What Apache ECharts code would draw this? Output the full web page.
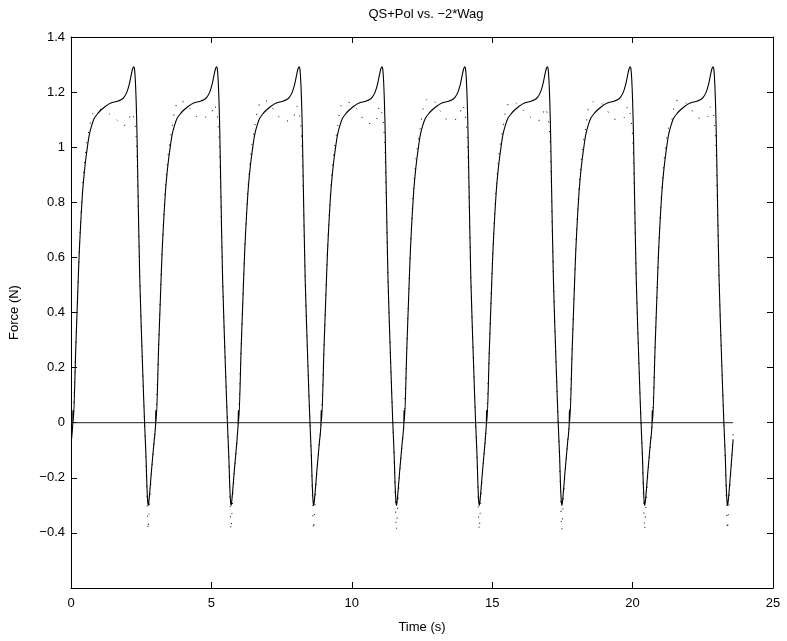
<!DOCTYPE html>
<html>
<head>
<meta charset="utf-8">
<script src="https://cdn.jsdelivr.net/npm/echarts@6/dist/echarts.min.js"></script>
<style>
html,body{margin:0;padding:0;background:#fff;}
#chart{width:787px;height:641px;}
</style>
</head>
<body>
<div id="chart"></div>
<script>
// ---- data ----
const chartTitle = 'QS+Pol vs. \u22122*Wag';
const xTicks = [0, 5, 10, 15, 20, 25];
const yTicks = [-0.6, -0.4, -0.2, 0, 0.2, 0.4, 0.6, 0.8, 1, 1.2, 1.4];

// start time (s) of each stroke cycle (rising zero crossing)
const cycleStarts = [0.07, 3.02, 5.96, 8.91, 11.86, 14.80, 17.75, 20.70];
// last sample time and final values
const endTime = 23.58;
const qsEndValue = -0.06;
const wagEndValue = -0.04;

// QS+Pol (solid) shape of one cycle: time after cycle start, force
const qsRelTime = [-0.05, -0.01, 0.0, 0.012, 0.10, 0.17, 0.225, 0.29, 0.345, 0.40, 0.46, 0.52, 0.58, 0.67, 0.76, 0.88, 1.00, 1.15, 1.35, 1.55, 1.71, 1.82, 1.92, 2.00, 2.07, 2.12, 2.16, 2.19, 2.22, 2.25, 2.28, 2.31, 2.38, 2.48, 2.55, 2.60, 2.63, 2.66, 2.68, 2.71, 2.80, 2.90];
const qsForce   = [-0.06, -0.01, 0.045, 0.005, 0.27, 0.47, 0.62, 0.75, 0.84, 0.905, 0.96, 1.005, 1.045, 1.08, 1.105, 1.122, 1.135, 1.148, 1.16, 1.166, 1.172, 1.182, 1.20, 1.226, 1.26, 1.283, 1.292, 1.285, 1.245, 1.17, 1.05, 0.88, 0.52, 0.20, 0.0, -0.12, -0.22, -0.285, -0.30, -0.28, -0.17, -0.055];

// -2*Wag (dotted): rising part, plateau (per cycle), falling part
const wagRiseTime = [0.0, 0.10, 0.225, 0.345, 0.46, 0.58];
const wagRiseForce = [0.0, 0.28, 0.63, 0.86, 0.99, 1.07];
const wagPlateauTime = [0.70, 0.85, 1.05, 1.30, 1.55, 1.80, 1.97, 2.08, 2.17];
const wagPlateau1 = [1.12, 1.14, 1.135, 1.12, 1.10, 1.078, 1.09, 1.127, 1.105];
const wagPlateau2 = [1.145, 1.17, 1.16, 1.13, 1.105, 1.11, 1.12, 1.156, 1.125];
const wagPlateau3 = [1.14, 1.17, 1.165, 1.13, 1.10, 1.095, 1.11, 1.15, 1.12];
const wagPlateau4 = [1.15, 1.165, 1.16, 1.135, 1.095, 1.085, 1.10, 1.15, 1.12];
const wagPlateau5 = [1.15, 1.175, 1.17, 1.13, 1.10, 1.10, 1.115, 1.155, 1.125];
const wagPlateau6 = [1.14, 1.165, 1.16, 1.135, 1.11, 1.095, 1.105, 1.145, 1.12];
const wagPlateau7 = [1.15, 1.165, 1.165, 1.14, 1.105, 1.10, 1.11, 1.15, 1.12];
const wagPlateau8 = [1.10, 1.17, 1.17, 1.15, 1.115, 1.10, 1.11, 1.147, 1.126];
const wagFallTime = [2.22, 2.26, 2.30, 2.38, 2.48, 2.55, 2.60, 2.645, 2.68, 2.71, 2.80, 2.90];
const wagFallForce = [1.08, 1.02, 0.88, 0.52, 0.20, 0.0, -0.14, -0.30, -0.39, -0.33, -0.18, -0.06];

// zero reference line
const zeroLineTimes = [0, 23.58];
const zeroLineValues = [0, 0];

// ---- build series ----
const wagPlateaus = [wagPlateau1, wagPlateau2, wagPlateau3, wagPlateau4, wagPlateau5, wagPlateau6, wagPlateau7, wagPlateau8];
const qsData = [];
const wagData = [];
cycleStarts.forEach((t0, k) => {
  qsRelTime.forEach((r, i) => {
    const t = t0 + r;
    if (t >= 0 && t <= endTime) qsData.push([t, qsForce[i]]);
  });
  const times = wagRiseTime.concat(wagPlateauTime, wagFallTime);
  const vals = wagRiseForce.concat(wagPlateaus[k], wagFallForce);
  times.forEach((r, i) => {
    const t = t0 + r;
    if (t >= 0 && t <= endTime) wagData.push([t, vals[i]]);
  });
});
qsData.push([endTime, qsEndValue]);
wagData.push([endTime, wagEndValue]);
const zeroData = zeroLineTimes.map((t, i) => [t, zeroLineValues[i]]);

const fontFam = 'Liberation Sans, Arial, Helvetica, sans-serif';
const fmt = v => {
  const r = Math.round(v * 10) / 10;
  if (Math.abs(r + 0.6) < 1e-9) return '';
  const s = String(Math.abs(r));
  return (r < 0 ? '\u2212' : '') + s;
};

const chart = echarts.init(document.getElementById('chart'), null, {renderer: 'canvas'});
const axisCommon = {
  axisLine: {show: true, onZero: false, lineStyle: {color: '#000', width: 1}},
  axisTick: {show: true, inside: true, length: 6, lineStyle: {color: '#000', width: 1}},
  splitLine: {show: false}
};
chart.setOption({
  animation: false,
  backgroundColor: '#fff',
  title: {
    text: chartTitle, left: 421, top: 3, textAlign: 'center',
    textStyle: {fontFamily: fontFam, fontSize: 13, fontWeight: 'normal', color: '#000'}
  },
  grid: {left: 70, right: 14, top: 37, bottom: 53},
  xAxis: [
    Object.assign({}, axisCommon, {
      type: 'value', min: xTicks[0], max: xTicks[xTicks.length - 1], interval: 5, position: 'bottom',
      name: 'Time (s)', nameLocation: 'middle', nameGap: 33,
      nameTextStyle: {fontFamily: fontFam, fontSize: 13, color: '#000'},
      axisLabel: {color: '#000', fontFamily: fontFam, fontSize: 13, margin: 9}
    }),
    Object.assign({}, axisCommon, {
      type: 'value', min: xTicks[0], max: xTicks[xTicks.length - 1], interval: 5, position: 'top',
      axisLabel: {show: false}
    })
  ],
  yAxis: [
    Object.assign({}, axisCommon, {
      type: 'value', min: yTicks[0], max: yTicks[yTicks.length - 1], interval: 0.2, position: 'left',
      name: 'Force (N)', nameLocation: 'middle', nameGap: 50, nameRotate: 90,
      nameTextStyle: {fontFamily: fontFam, fontSize: 13, color: '#000'},
      axisLabel: {color: '#000', fontFamily: fontFam, fontSize: 13, margin: 6, formatter: fmt}
    }),
    Object.assign({}, axisCommon, {
      type: 'value', min: yTicks[0], max: yTicks[yTicks.length - 1], interval: 0.2, position: 'right',
      axisLabel: {show: false}
    })
  ],
  series: [
    {
      name: 'zero', type: 'line', data: zeroData, xAxisIndex: 0, yAxisIndex: 0,
      showSymbol: false, symbol: 'none', lineStyle: {color: '#222', width: 1}, silent: true
    },
    {
      name: '-2*Wag', type: 'line', data: wagData, xAxisIndex: 0, yAxisIndex: 0,
      showSymbol: false, symbol: 'none', smooth: 0.3,
      lineStyle: {color: '#000', width: 1, type: [1, 9]}, silent: true
    },
    {
      name: 'QS+Pol', type: 'line', data: qsData, xAxisIndex: 0, yAxisIndex: 0,
      showSymbol: false, symbol: 'none', smooth: 0.3,
      lineStyle: {color: '#000', width: 1.1}, silent: true
    }
  ]
});
</script>
</body>
</html>
